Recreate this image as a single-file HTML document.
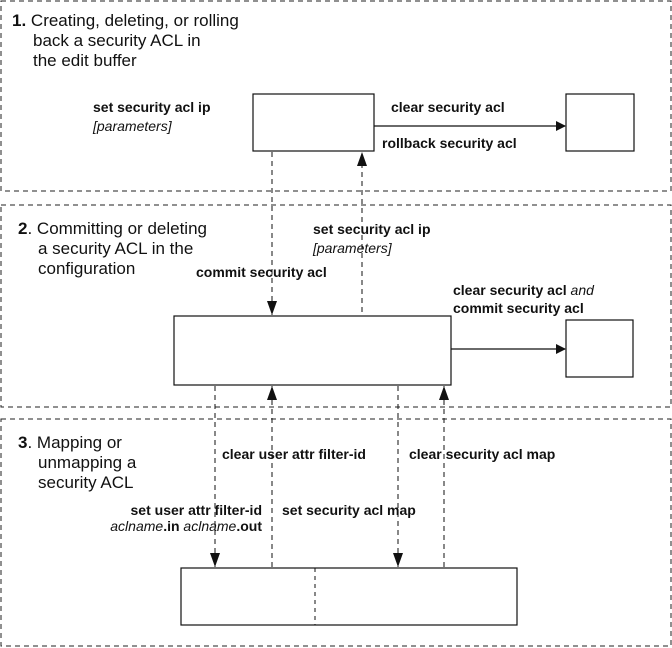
<!DOCTYPE html>
<html><head><meta charset="utf-8"><style>
html,body{margin:0;padding:0;background:#fff;}
svg{display:block;}
text{font-family:"Liberation Sans",sans-serif;fill:#111;}
.t{font-size:17px;}
.b{font-size:14px;font-weight:bold;}
.i{font-style:italic;font-weight:normal;}
</style></head><body>
<svg width="672" height="648" viewBox="0 0 672 648" xmlns="http://www.w3.org/2000/svg">
<defs><marker id="ah" markerWidth="10" markerHeight="10" refX="9" refY="5" orient="auto" markerUnits="userSpaceOnUse"><path d="M0,0 L10,5 L0,10 z" fill="#111"/></marker>
<marker id="av" markerWidth="16" markerHeight="18" refX="14" refY="5" orient="auto" markerUnits="userSpaceOnUse"><path d="M0,0 L14,5 L0,10 z" fill="#111"/></marker></defs>
<g fill="none" stroke="#222" stroke-width="1" stroke-dasharray="5,4">
<rect x="1" y="1" width="670" height="190"/>
<rect x="1" y="205" width="670" height="202"/>
<rect x="1" y="419" width="670" height="227"/>
</g>
<g fill="#fff" stroke="#111" stroke-width="1.2">
<rect x="253" y="94" width="121" height="57"/>
<rect x="566" y="94" width="68" height="57"/>
<rect x="174" y="316" width="277" height="69"/>
<rect x="566" y="320" width="67" height="57"/>
<rect x="181" y="568" width="336" height="57"/>
</g>
<line x1="315" y1="568" x2="315" y2="625" stroke="#111" stroke-dasharray="4,4"/>
<line x1="374" y1="126" x2="565" y2="126" stroke="#111" stroke-width="1.2" marker-end="url(#ah)"/>
<line x1="451" y1="349" x2="565" y2="349" stroke="#111" stroke-width="1.2" marker-end="url(#ah)"/>
<g stroke="#111" stroke-width="1" stroke-dasharray="5,4" fill="none">
<line x1="272" y1="152" x2="272" y2="315" marker-end="url(#av)"/>
<line x1="362" y1="312" x2="362" y2="152" marker-end="url(#av)"/>
<line x1="215" y1="386" x2="215" y2="567" marker-end="url(#av)"/>
<line x1="272" y1="567" x2="272" y2="386" marker-end="url(#av)"/>
<line x1="398" y1="386" x2="398" y2="567" marker-end="url(#av)"/>
<line x1="444" y1="567" x2="444" y2="386" marker-end="url(#av)"/>
</g>
<text class="t" x="12" y="26"><tspan font-weight="bold">1.</tspan> Creating, deleting, or rolling</text>
<text class="t" x="33" y="46">back a security ACL in</text>
<text class="t" x="33" y="66">the edit buffer</text>
<text class="b" x="93" y="112">set security acl ip</text>
<text class="b i" x="93" y="131">[parameters]</text>
<text class="b" x="391" y="112">clear security acl</text>
<text class="b" x="382" y="148">rollback security acl</text>
<text class="t" x="18" y="234"><tspan font-weight="bold">2</tspan>. Committing or deleting</text>
<text class="t" x="38" y="254">a security ACL in the</text>
<text class="t" x="38" y="274">configuration</text>
<text class="b" x="313" y="234">set security acl ip</text>
<text class="b i" x="313" y="253">[parameters]</text>
<text class="b" x="196" y="277">commit security acl</text>
<text class="b" x="453" y="295">clear security acl <tspan class="i">and</tspan></text>
<text class="b" x="453" y="313">commit security acl</text>
<text class="t" x="18" y="448"><tspan font-weight="bold">3</tspan>. Mapping or</text>
<text class="t" x="38" y="468">unmapping a</text>
<text class="t" x="38" y="488">security ACL</text>
<text class="b" x="222" y="459">clear user attr filter-id</text>
<text class="b" x="409" y="459">clear security acl map</text>
<text class="b" x="262" y="515" text-anchor="end">set user attr filter-id</text>
<text class="b" x="262" y="531" text-anchor="end"><tspan class="i">aclname</tspan>.in <tspan class="i">aclname</tspan>.out</text>
<text class="b" x="282" y="515">set security acl map</text>
</svg>
</body></html>
